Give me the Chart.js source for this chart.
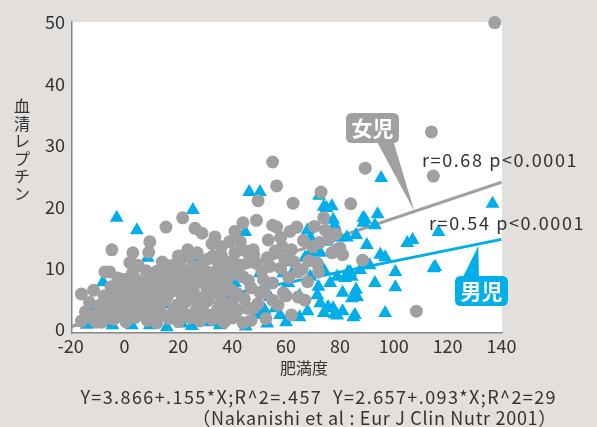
<!DOCTYPE html>
<html>
<head>
<meta charset="utf-8">
<script src="https://cdn.jsdelivr.net/npm/chart.js@4.4.0/dist/chart.umd.min.js"></script>
<style>
  html, body { margin: 0; padding: 0; background: #e3dfdc; }
  #wrap { width: 597px; height: 427px; }
</style>
</head>
<body>
<div id="wrap"><canvas id="chart" width="597" height="427"></canvas></div>
<script>
  "use strict";

  // Girls (gray circles): [肥満度, 血清レプチン]
  var girls = [
    [137.5, 50], [114, 32.2], [114.7, 25], [89.4, 26.3], [73, 22.4], [84, 20.5], [108.4, 3], [55, 27.3],
    [56.5, 23.4], [49.6, 21], [62.6, 20.6], [88.4, 11.3],
    [-16, 5.8], [-11.5, 6.4], [-5.5, 9.4], [-4.7, 13], [15.4, 16.7], [21.6, 18.2], [9.4, 14.3], [9, 12.6],
    [3.1, 12.5], [2, 10.9], [5, 10.5], [26.2, 16.5], [28.8, 15.7], [33.6, 15.1], [23.5, 13], [-7.3, 9.4],
    [-2.5, 8.4], [3.8, 8.1],
    [49, 17.8], [55, 17], [56.5, 16.7], [64, 16.7], [74, 18.2], [74.6, 16.2], [43, 14.3], [53.4, 14.6],
    [58.6, 13.5], [62, 13], [80, 13.3], [81, 12.2], [71.6, 10.8], [72, 9.4], [64.5, 9.4], [68, 7.8],
    [59, 6], [64.5, 5.3], [62, 2.4], [44, 1.1], [40, 1.9], [34.7, 1.9], [47.8, 3.5], [45.5, 3.5],
    [51.6, 8.1], [55, 7.6], [58, 10], [53, 11.7], [49, 10.8], [44, 8.6], [39, 9.7], [38, 8.1],
    [41.8, 5.9], [50.3, 6.1], [55, 4.8], [34, 5.9], [79, 13], [32.5, 14], [39, 14.3], [47.8, 13],
    [36, 12], [41, 12.5], [46, 11], [31, 11.5], [27, 12.5], [20, 12], [18, 10.5], [14, 11],
    [12, 9.5], [25, 10], [30, 9.5], [35, 10.5],
    [-16, 1.4], [-12.5, 1.9], [-8.5, 1.2], [-4, 1.7], [0.5, 1.3], [4, 2.0], [8.5, 1.5], [12, 1.1],
    [16.5, 1.8], [20, 1.3], [24.5, 1.9], [28, 1.4], [32.5, 1.7], [37, 1.2],
    [-14.5, 2.9], [-10, 2.6], [-6.5, 3.1], [-2, 2.7], [2.5, 3.2], [6, 2.6], [10.5, 3.0], [14, 2.5],
    [18.5, 3.3], [22, 2.7], [26.5, 3.1], [30, 2.6], [34.5, 3.2], [38.5, 2.9],
    [-13, 4.4], [-9, 4.0], [-5.5, 4.6], [-1, 4.1], [3.5, 4.5], [7, 3.9], [11.5, 4.3], [15, 4.8],
    [19.5, 4.0], [23, 4.6], [27.5, 4.2], [31, 4.7], [35.5, 4.1], [40, 4.4],
    [-7.5, 5.5], [-3.5, 6.0], [0.5, 5.4], [4.5, 5.9], [8, 5.3], [12.5, 5.8], [16, 5.5], [20.5, 6.1],
    [24, 5.6], [28.5, 5.2], [32, 5.9], [36, 5.5],
    [-5, 7.0], [-1.5, 6.6], [2.5, 7.2], [6.5, 6.8], [10, 7.3], [14.5, 6.7], [18, 7.1], [22.5, 6.9],
    [26, 7.4], [30.5, 6.8], [34, 7.2],
    [0, 8.2], [5, 8.0], [9.5, 8.5], [13, 7.9], [17.5, 8.4], [21, 8.0], [25.5, 8.6], [29, 8.1], [33, 8.3],
    [8, 9.6], [13.5, 9.2], [18, 9.8], [22.5, 9.4], [27, 9.9], [31.5, 9.3],
    [42, 3.2], [44.5, 5.0], [47, 6.8], [49.5, 4.2], [52, 6.0], [46, 8.0], [43, 10.5], [48, 12.2],
    [51, 9.6], [54, 10.3], [56, 12.8], [59.5, 11.5], [61, 8.5], [63, 11.0], [66, 9.8], [68.5, 11.2],
    [70, 13.5], [66.5, 14.5], [61.5, 16.0], [58, 15.0], [70.5, 16.8], [72.5, 14.2], [76, 14.8], [78.5, 15.6],
    [77, 12.5], [57, 4.0], [60, 5.5], [67, 4.8], [52.5, 1.8], [47, 1.5], [38, 11], [36, 13.5],
    [41, 16], [44, 17.4], [39.5, 6.5],
    [-10.5, 1.2], [-6, 2.0], [-2.5, 3.6], [1.5, 2.2], [5.5, 3.5], [9, 2.2], [13, 3.6], [17, 2.3],
    [21, 3.6], [25, 2.3], [29, 3.7], [33, 2.4], [37, 3.8], [41, 2.2],
    [-3, 5.1], [1.5, 6.3], [6, 4.8], [9.5, 6.3], [13.5, 5.0], [17.5, 6.3], [21.5, 5.0], [25.5, 6.4],
    [29.5, 5.0], [33.5, 6.5], [37.5, 7.0],
    [3, 9.2], [7.5, 7.6], [11.5, 8.3], [15.5, 8.9], [19.5, 8.6], [23.5, 7.6], [27.5, 8.8], [31.5, 7.5],
    [35.5, 9.0], [15.5, 10.5], [20.5, 10.8], [24, 11.8], [28.5, 10.6], [33, 12.0], [37.5, 10.0], [42, 9.0],
    [45, 12.8], [40.5, 11.0]
  ];

  // Boys (cyan triangles)
  var boys = [
    [136.7, 20.5], [95.3, 24.7], [72.3, 21.8], [74, 20], [77, 20.1], [94, 18.8], [88.7, 18.2], [46.3, 22.4],
    [50.3, 22.4], [25.4, 19.5], [-2.9, 18.2], [4.6, 16.2], [89.4, 17.9], [93, 17], [116.6, 15.9], [90, 13.8],
    [105, 14.1], [107, 14.6], [95, 12.2], [96.8, 11.8], [100.6, 9.4], [115.4, 10.2], [93, 7.6], [100.6, 6.9],
    [96.8, 2.7], [85.6, 2.4], [86.4, 5.3], [84.4, 8.6], [87.5, 9.7],
    [88.7, 17.4], [114.8, 10], [85, 2], [79, 2.3], [74, 2.7], [77.5, 3.5], [84.5, 5.1], [81, 6],
    [71.6, 5.6], [72.7, 4.3], [65, 2], [82, 8.4], [76.4, 7.6], [74, 9.7], [83, 9.4], [91, 10.5],
    [77.5, 17.9], [78, 17], [75, 19.8], [80, 15], [82.6, 15], [75, 14.3], [69, 15], [69, 12.6],
    [72.7, 12.5], [67, 11.7],
    [44.8, 15.9], [68, 16.2], [86, 15.4], [60, 11], [62.5, 9.4], [59, 9.2], [60.8, 7.6], [69, 8.6],
    [72, 7], [79, 8.6], [83.8, 9.4], [86, 6.5], [75.6, 3.7], [81, 3], [78, 2.5], [56, 3.5],
    [57.8, 2.4], [49.6, 2.4], [52, 3.2], [54, 5.3], [39, 4.8], [36.6, 3.5], [41, 7.6], [35.4, 0.7],
    [50.3, 9.2],
    [-8, 7.7], [-11, 3.5], [-1.8, 6.8], [1.2, 7.6], [8.6, 11.7], [12.4, 9.4], [16.8, 7.6], [-8, 1.2],
    [-4.5, 0.7], [2.7, 0.7], [9.4, 0.7], [15.7, 0.4], [21.3, 1], [28.7, 2.4], [27.2, 4.8], [29, 7.6],
    [28, 11.7], [-14, 0.8], [25, 0.6], [32, 1.2], [45, 0.5], [53, 1], [60, 1.2], [65, 5.5], [68, 3]
  ];

  // Regression lines, endpoints
  var girlsLine = [[-20, 0.5], [140, 24]];
  var boysLine = [[-20, 0.5], [140, 14.7]];

  var xTicks = [-20, 0, 20, 40, 60, 80, 100, 120, 140];
  var yTicks = [0, 10, 20, 30, 40, 50];

  var BG = '#e3dfdc';
  var GRAY = '#a0a0a2';
  var CYAN = '#00aeea';
  var TEXT = '#333333';
  var FONT = '"Noto Sans CJK JP", "Noto Sans", sans-serif';

  function pts(list) {
    return list.map(function (p) { return { x: p[0], y: p[1] }; });
  }

  function roundBox(ctx, x, y, w, h, r) {
    ctx.beginPath();
    ctx.moveTo(x + r, y);
    ctx.lineTo(x + w - r, y);
    ctx.quadraticCurveTo(x + w, y, x + w, y + r);
    ctx.lineTo(x + w, y + h - r);
    ctx.quadraticCurveTo(x + w, y + h, x + w - r, y + h);
    ctx.lineTo(x + r, y + h);
    ctx.quadraticCurveTo(x, y + h, x, y + h - r);
    ctx.lineTo(x, y + r);
    ctx.quadraticCurveTo(x, y, x + r, y);
    ctx.closePath();
  }

  var decor = {
    id: 'decor',
    beforeDraw: function (chart) {
      var ctx = chart.ctx, a = chart.chartArea;
      ctx.save();
      ctx.fillStyle = BG;
      ctx.fillRect(0, 0, chart.width, chart.height);
      ctx.fillStyle = '#ffffff';
      ctx.fillRect(a.left, a.top, a.right - a.left, a.bottom - a.top);
      ctx.restore();
    },
    afterDraw: function (chart) {
      var ctx = chart.ctx;
      var xs = chart.scales.x, ys = chart.scales.y;
      ctx.save();
      ctx.fillStyle = TEXT;
      ctx.textAlign = 'center';
      ctx.textBaseline = 'middle';

      // vertical y title
      ctx.font = '16px ' + FONT;
      var title = '血清レプチン';
      for (var i = 0; i < title.length; i++) {
        ctx.fillText(title[i], 22, 106 + i * 17.5);
      }

      // x title
      ctx.fillText('肥満度', 304, 368);

      // regression formulas and source
      ctx.font = '18px ' + FONT;
      ctx.textAlign = 'right';
      ctx.letterSpacing = '1.4px';
      ctx.fillText('Y=3.866+.155*X;R^2=.457  Y=2.657+.093*X;R^2=29', 557, 397);
      ctx.letterSpacing = '0.7px';
      ctx.fillText('（Nakanishi et al : Eur J Clin Nutr 2001）', 557, 418);

      // r / p labels
      ctx.textAlign = 'left';
      ctx.letterSpacing = '1.6px';
      ctx.fillText('r=0.68 p<0.0001', 422, 160);
      ctx.fillText('r=0.54 p<0.0001', 429, 223);
      ctx.letterSpacing = '0px';

      // 女児 callout
      var gx = xs.getPixelForValue(107.6), gy = ys.getPixelForValue(19.3);
      ctx.fillStyle = GRAY;
      ctx.beginPath();
      ctx.moveTo(376, 140);
      ctx.lineTo(393, 140);
      ctx.lineTo(gx, gy);
      ctx.closePath();
      ctx.fill();
      roundBox(ctx, 346, 113, 53, 30, 6);
      ctx.fill();

      // 男児 callout
      var bx = xs.getPixelForValue(131.4), by = ys.getPixelForValue(13.6);
      ctx.fillStyle = CYAN;
      ctx.beginPath();
      ctx.moveTo(462, 279);
      ctx.lineTo(479, 279);
      ctx.lineTo(bx, by);
      ctx.closePath();
      ctx.fill();
      roundBox(ctx, 455, 276, 53, 30, 6);
      ctx.fill();

      ctx.fillStyle = '#ffffff';
      ctx.font = 'bold 21px ' + FONT;
      ctx.textAlign = 'center';
      ctx.fillText('女児', 372.5, 128.5);
      ctx.fillText('男児', 481.5, 291.5);
      ctx.restore();
    }
  };

  new Chart(document.getElementById('chart').getContext('2d'), {
    type: 'scatter',
    data: {
      datasets: [
        {
          label: '女児',
          data: pts(girls),
          pointStyle: 'circle',
          pointRadius: 6.5,
          backgroundColor: GRAY,
          borderWidth: 0,
          clip: false,
          order: 0
        },
        {
          label: '男児',
          data: pts(boys),
          pointStyle: 'triangle',
          pointRadius: 8,
          backgroundColor: CYAN,
          borderWidth: 0,
          clip: false,
          order: 1
        },
        {
          label: '女児 回帰',
          data: pts(girlsLine),
          showLine: true,
          borderColor: GRAY,
          borderWidth: 3,
          pointRadius: 0,
          order: 2
        },
        {
          label: '男児 回帰',
          data: pts(boysLine),
          showLine: true,
          borderColor: CYAN,
          borderWidth: 3,
          pointRadius: 0,
          order: 2
        }
      ]
    },
    options: {
      responsive: false,
      animation: false,
      layout: { padding: { top: 22, right: 95, left: 0, bottom: 0 } },
      plugins: { legend: { display: false }, tooltip: { enabled: false } },
      scales: {
        x: {
          type: 'linear',
          min: -19.5,
          max: 140.2,
          grid: { display: false, drawTicks: false },
          border: { color: '#858585', width: 1.5 },
          afterBuildTicks: function (s) { s.ticks = xTicks.map(function (v) { return { value: v }; }); },
          afterFit: function (s) { s.height = 94; },
          ticks: { autoSkip: false, maxRotation: 0, padding: 2, color: TEXT, font: { family: FONT, size: 18 } }
        },
        y: {
          type: 'linear',
          min: -0.55,
          max: 50.1,
          grid: { display: false, drawTicks: false },
          border: { color: '#858585', width: 1.5 },
          afterBuildTicks: function (s) { s.ticks = yTicks.map(function (v) { return { value: v }; }); },
          afterFit: function (s) { s.width = 72; },
          ticks: { padding: 7, color: TEXT, font: { family: FONT, size: 18 } }
        }
      }
    },
    plugins: [decor]
  });
</script>
</body>
</html>
